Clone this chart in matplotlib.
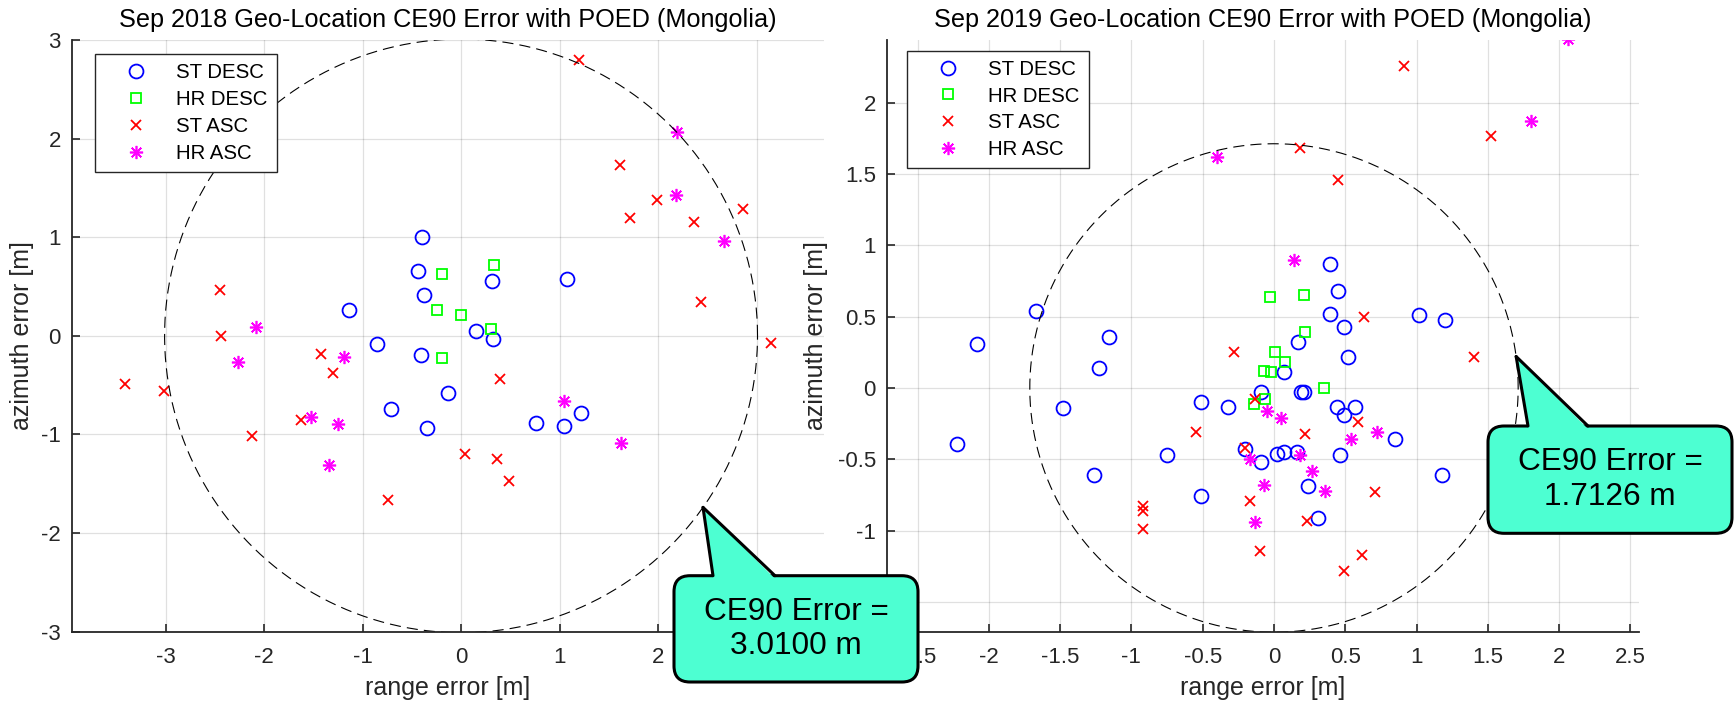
import numpy as np
import matplotlib
matplotlib.use('Agg')
import matplotlib.pyplot as plt
from matplotlib.patches import FancyBboxPatch, Polygon
from matplotlib.lines import Line2D
from matplotlib.transforms import IdentityTransform

plt.rcParams['font.family'] = ['Liberation Sans', 'DejaVu Sans']
plt.rcParams['font.size'] = 16

# ---- Sep 2018 data (range, azimuth) ----
st_desc_18_x = [-0.40, -0.44, -0.38, -1.14, -0.85, -0.41, 0.31, 1.08, 0.15, 0.32, -0.13, -0.71, -0.35, 1.22, 0.76, 1.05]
st_desc_18_y = [1.00, 0.66, 0.41, 0.26, -0.08, -0.19, 0.56, 0.58, 0.05, -0.03, -0.58, -0.74, -0.93, -0.78, -0.88, -0.91]
hr_desc_18_x = [-0.19, 0.33, -0.24, 0.00, 0.30, -0.19]
hr_desc_18_y = [0.63, 0.72, 0.26, 0.21, 0.07, -0.22]
st_asc_18_x = [1.20, 1.61, 1.99, 1.72, 2.37, 2.86, 2.44, 3.15, -2.45, -2.44, -1.42, -3.41, -3.02, -1.30,
               -1.63, -2.12, -0.74, 0.40, 0.04, 0.37, 0.49]
st_asc_18_y = [2.80, 1.73, 1.38, 1.19, 1.15, 1.29, 0.34, -0.07, 0.46, 0.00, -0.18, -0.49, -0.56, -0.38,
               -0.85, -1.02, -1.66, -0.44, -1.20, -1.25, -1.47]
hr_asc_18_x = [2.19, 2.18, 2.67, -2.08, -1.19, -2.26, -1.52, -1.25, -1.34, 1.05, 1.62]
hr_asc_18_y = [2.07, 1.43, 0.96, 0.09, -0.21, -0.27, -0.82, -0.89, -1.31, -0.66, -1.09]
ce90_18 = 3.0100

# ---- Sep 2019 data ----
st_desc_19_x = [-1.67, -2.08, -1.16, 0.39, 0.45, 0.39, 0.49, 1.02, 1.20, 0.17, 0.52, -1.23, 0.07, -0.09,
                -0.51, -0.32, -1.48, -2.22, -0.75, -0.20, -0.09, 0.02, 0.07, -1.26, -0.51, 0.19, 0.21,
                0.44, 0.57, 0.49, 0.85, 0.16, 0.46, 1.18, 0.24, 0.31]
st_desc_19_y = [0.54, 0.31, 0.36, 0.87, 0.68, 0.52, 0.43, 0.51, 0.48, 0.32, 0.22, 0.14, 0.11, -0.03,
                -0.10, -0.13, -0.14, -0.39, -0.47, -0.43, -0.52, -0.46, -0.45, -0.61, -0.76, -0.03, -0.03,
                -0.13, -0.13, -0.19, -0.36, -0.45, -0.47, -0.61, -0.69, -0.91]
hr_desc_19_x = [-0.03, 0.21, 0.22, 0.01, 0.08, -0.07, -0.02, -0.06, -0.14, 0.35]
hr_desc_19_y = [0.64, 0.65, 0.39, 0.25, 0.18, 0.12, 0.11, -0.08, -0.11, 0.00]
st_asc_19_x = [0.91, 1.52, 0.18, 0.45, 0.63, 1.40, -0.28, -0.13, -0.55, -0.20, -0.92, -0.92, -0.92,
               -0.17, -0.10, 0.59, 0.22, 0.71, 0.23, 0.62, 0.49]
st_asc_19_y = [2.26, 1.77, 1.68, 1.46, 0.50, 0.22, 0.25, -0.08, -0.31, -0.42, -0.83, -0.86, -0.99,
               -0.79, -1.14, -0.24, -0.32, -0.73, -0.93, -1.17, -1.28]
hr_asc_19_x = [2.06, 1.80, -0.40, 0.14, -0.05, 0.05, -0.17, -0.07, -0.13, 0.72, 0.54, 0.18, 0.27, 0.36]
hr_asc_19_y = [2.45, 1.87, 1.62, 0.90, -0.16, -0.21, -0.50, -0.68, -0.94, -0.31, -0.36, -0.47, -0.58, -0.72]
ce90_19 = 1.7126

W, H = 1734, 704
fig = plt.figure(figsize=(W / 100, H / 100), dpi=100)

ax1 = fig.add_axes([72 / W, (H - 631.7) / H, 752 / W, 591.7 / H])
ax2 = fig.add_axes([887 / W, (H - 631.7) / H, 752 / W, 591.7 / H])

axcol = '#262626'
asterisk = (8, 2, 0)


def fmt(v, hidden):
    return '' if v in hidden else '%g' % v


def draw_panel(ax, data, r, title, xlim, ylim, xticks, yticks, leg_anchor, hide_x=(), hide_y=()):
    (sdx, sdy), (hdx, hdy), (sax, say), (hax, hay) = data
    ax.plot(sdx, sdy, 'o', ls='none', mfc='none', mec=(0, 0, 1), ms=10, mew=1.3, label='ST DESC')
    ax.plot(hdx, hdy, 's', ls='none', mfc='none', mec=(0, 1, 0), ms=7.5, mew=1.3, label='HR DESC')
    ax.plot(sax, say, 'x', ls='none', color=(1, 0, 0), ms=7, mew=1.3, label='ST ASC')
    ax.plot(hax, hay, marker=asterisk, ls='none', color=(1, 0, 1), ms=9.5, mew=1.2, label='HR ASC')
    t = np.linspace(0, 2 * np.pi, 400)
    ax.plot(r * np.cos(t), r * np.sin(t), color='k', lw=0.8, dashes=(10, 5.5))
    ax.set_xlim(xlim)
    ax.set_ylim(ylim)
    ax.set_xticks(xticks)
    ax.set_yticks(yticks)
    ax.set_xticklabels([fmt(v, hide_x) for v in xticks])
    ax.set_yticklabels([fmt(v, hide_y) for v in yticks])
    ax.grid(True, color='#000000', alpha=0.12, lw=0.9)
    ax.set_axisbelow(True)
    for s in ['top', 'right']:
        ax.spines[s].set_visible(False)
    for s in ['left', 'bottom']:
        ax.spines[s].set_color(axcol)
        ax.spines[s].set_linewidth(1.3)
    ax.tick_params(direction='in', length=6, width=1.2, colors=axcol, labelsize=16)
    ax.tick_params(axis='x', pad=11)
    ax.tick_params(axis='y', pad=8)
    ax.set_xlabel('range error [m]', fontsize=18, color=axcol)
    ax.set_ylabel('azimuth error [m]', fontsize=18, color=axcol)
    ax.set_title(title, fontsize=18.2, pad=9)
    leg = ax.legend(loc='upper left', bbox_to_anchor=leg_anchor, borderaxespad=0, fancybox=False,
                    framealpha=1, edgecolor=axcol, fontsize=14.7, handlelength=3.2, handletextpad=0.35,
                    labelspacing=0.38, borderpad=0.45)
    leg.get_frame().set_linewidth(1.0)


draw_panel(ax1, [(st_desc_18_x, st_desc_18_y), (hr_desc_18_x, hr_desc_18_y),
                 (st_asc_18_x, st_asc_18_y), (hr_asc_18_x, hr_asc_18_y)], ce90_18,
           'Sep 2018 Geo-Location CE90 Error with POED (Mongolia)',
           (-3.95, 3.685), (-3, 3), [-3, -2, -1, 0, 1, 2, 3], [-3, -2, -1, 0, 1, 2, 3], (0.030, 0.976),
           hide_x=(3,))
draw_panel(ax2, [(st_desc_19_x, st_desc_19_y), (hr_desc_19_x, hr_desc_19_y),
                 (st_asc_19_x, st_asc_19_y), (hr_asc_19_x, hr_asc_19_y)], ce90_19,
           'Sep 2019 Geo-Location CE90 Error with POED (Mongolia)',
           (-2.714, 2.56), (-1.709, 2.44), [-2.5, -2, -1.5, -1, -0.5, 0, 0.5, 1, 1.5, 2, 2.5],
           [-1.5, -1, -0.5, 0, 0.5, 1, 1.5, 2], (0.026, 0.982), hide_y=(-1.5,))
ax1.yaxis.set_label_coords(-0.050, 0.5)
ax2.yaxis.set_label_coords(-0.078, 0.5)
ax1.xaxis.set_label_coords(0.5, -0.075)
ax2.xaxis.set_label_coords(0.5, -0.075)


def callout(ax, r, ang, box, base, text):
    # box = (x0, y_top, x1, y_bottom) in pixels measured from the top-left corner
    x0, yt, x1, yb = box
    tip = ax.transData.transform((r * np.cos(np.radians(ang)), r * np.sin(np.radians(ang))))
    tr = IdentityTransform()
    fill = '#4dffd2'
    bx = FancyBboxPatch((x0, H - yb), x1 - x0, yb - yt, boxstyle='round,pad=0,rounding_size=16',
                        fc=fill, ec='k', lw=2.2, transform=tr, zorder=20)
    fig.patches.append(bx)
    tri = Polygon([(base[0], H - yt - 3), (base[1], H - yt - 3), (tip[0], tip[1])], closed=True,
                  fc=fill, ec='none', transform=tr, zorder=21)
    fig.patches.append(tri)
    for bxp in base:
        fig.lines.append(Line2D([bxp, tip[0]], [H - yt, tip[1]], color='k', lw=2.2,
                                solid_capstyle='round', transform=tr, zorder=22))
    fig.text((x0 + x1) / 2 / W, (H - (yt + yb) / 2) / H, text, ha='center', va='center',
             fontsize=22.7, linespacing=1.2, zorder=23)


callout(ax1, ce90_18, -35.3, (674, 575.7, 918, 682), (713, 775), 'CE90 Error =\n%.4f m' % ce90_18)
callout(ax2, ce90_19, 7.4, (1488, 426, 1732, 533.3), (1528, 1588), 'CE90 Error =\n%.4f m' % ce90_19)

fig.savefig('out.png', dpi=100)
